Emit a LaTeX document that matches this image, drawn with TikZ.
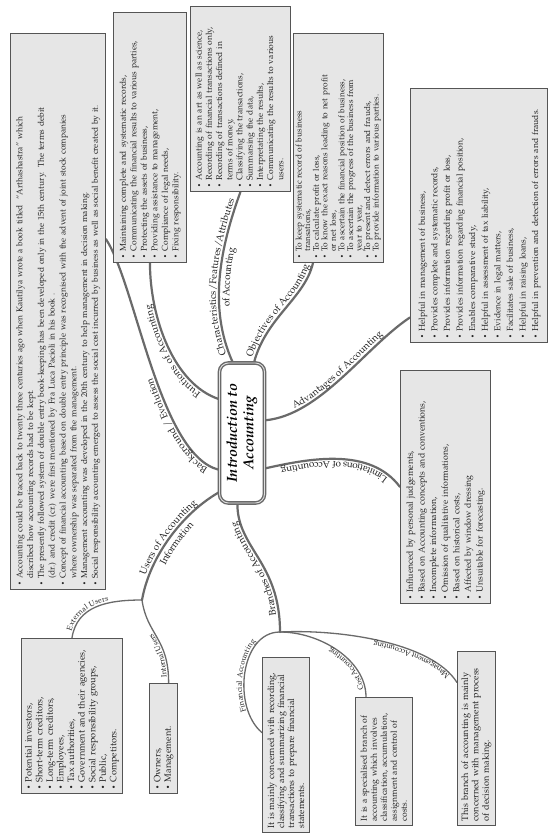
\documentclass[tikz,border=0pt]{standalone}
\usepackage[T1]{fontenc}
\usepackage{graphicx}
\usepackage{mathpazo}
\usetikzlibrary{calc,decorations.text,backgrounds}
\definecolor{linegray}{HTML}{6A6A6A}
\definecolor{boxfill}{HTML}{E6E6E6}
\definecolor{boxline}{HTML}{555555}
\definecolor{txt}{HTML}{262626}
\newcommand{\fs}[2]{\fontsize{#1}{#2}\selectfont}
\newcommand{\brfont}{\fontsize{9.8}{11}\selectfont}
\newcommand{\sbfont}{\fontsize{7.6}{9}\selectfont}
\newcommand{\bu}{\raisebox{0.1ex}{\scalebox{0.75}{\textbullet}}}
\tikzset{
 infobox/.style={draw=boxline, fill=boxfill, line width=0.9pt, rotate=90, anchor=north east, inner xsep=4pt, inner ysep=2pt, text=txt, align=left},
 boxdim/.style n args={3}{infobox, text width=#1-8pt, minimum height=#2, font=#3},
 hub/.style={rotate=90, draw=linegray, line width=1.4pt, double=gray!25, double distance=0.9pt, rounded corners=9pt, fill=white, minimum width=140pt, minimum height=45pt, inner sep=2pt, align=center, text=black, font=\fontsize{14.5}{16.5}\selectfont\bfseries\itshape},
 conn/.style={draw=linegray, line width=2.2pt, line cap=round},
 subconn/.style={draw=linegray, line width=1.3pt, line cap=round},
 lab/.style 2 args={postaction={decorate, decoration={text along path, text={|\brfont|#1}, text align=center, text color=txt, raise=#2}}},
 labl/.style n args={3}{postaction={decorate, decoration={text along path, text={|\brfont|#1}, text align={left, left indent=#3}, text color=txt, raise=#2}}},
 sublab/.style 2 args={postaction={decorate, decoration={text along path, text={|\sbfont|#1}, text align=center, text color=txt, raise=#2}}},
 sublabl/.style n args={3}{postaction={decorate, decoration={text along path, text={|\sbfont|#1}, text align={left, left indent=#3}, text color=txt, raise=#2}}},
}
\begin{document}
\begin{tikzpicture}[x=1pt,y=-1pt]
\useasboundingbox (0,0) rectangle (556,839);

\node[hub] (C) at (242,433) {Introduction to\\Accounting};

\node[boxdim={556pt}{95pt}{\fs{8.45}{10.8}}] (bg) at (10,33) {\begin{tabular}{@{}l@{\hspace{3pt}}l@{}}
\bu & Accounting could be traced back to twenty three centuries ago when Kautilya wrote a book titled \ ``Arthashastra'' which\\
 & discribed how accounting records had to be kept.\\
\bu & The presently followed system of double entry book-keeping has been developed only in the 15th century. The terms debit\\
 & (dr.) and credit (cr.) were first mentioned by Fra Luca Pacioli in his book .\\
\bu & Concept of financial accounting based on double entry principle was recognised with the advent of joint stock companies\\
 & where ownership was separated from the management.\\
\bu & Management accounting was developed in the 20th century to help management in decision making.\\
\bu & Social responsibility accounting emerged to assess the social cost incurred by business as well as social benefit created by it.
\end{tabular}};

\node[boxdim={250pt}{73pt}{\fs{8.5}{10.5}}] (fn) at (113,12) {\begin{tabular}{@{}l@{\hspace{3pt}}l@{}}
\bu & Maintaining complete and systematic records,\\
\bu & Communicating the financial results to various parties,\\
\bu & Protecting the assets of business,\\
\bu & Providing assistance to management,\\
\bu & Compliance of legal needs,\\
\bu & Fixing responsibility.
\end{tabular}};

\node[boxdim={185pt}{100pt}{\fs{8.5}{10.2}}] (ch) at (190,6) {\begin{tabular}{@{}l@{\hspace{3pt}}l@{}}
\bu & Accounting is an art as well as science,\\
\bu & Recording of financial transactions only,\\
\bu & Recording of transactions defined in\\
 & terms of money,\\
\bu & Classifying the transactions,\\
\bu & Summarsing the data,\\
\bu & Interpretating the results,\\
\bu & Communicating the results to various\\
 & users.
\end{tabular}};

\node[boxdim={229pt}{90pt}{\fs{8.3}{8.5}}] (ob) at (293,33) {\begin{tabular}{@{}l@{\hspace{3pt}}l@{}}
\bu & To keep systematic record of business\\
 & transations,\\
\bu & To calculate profit or loss,\\
\bu & To know the exact reasons leading to net profit\\
 & or net loss,\\
\bu & To ascertain the financial position of business,\\
\bu & To ascertain the progress of the business from\\
 & year to year,\\
\bu & To present and detect errors and frauds,\\
\bu & To provide information to various parties.
\end{tabular}};

\node[boxdim={254pt}{137pt}{\fs{8.6}{12.6}}] (ad) at (410,88) {\begin{tabular}{@{}l@{\hspace{3pt}}l@{}}
\bu & Helpful in management of business,\\
\bu & Provides complete and systematic records,\\
\bu & Provides information regarding profit or loss,\\
\bu & Provides information regarding financial position,\\
\bu & Enables comparative study,\\
\bu & Helpful in assessment of tax liability,\\
\bu & Evidence in legal matters,\\
\bu & Facilitates sale of business,\\
\bu & Helpful in raising loans,\\
\bu & Helpful in prevention and detection of errors and frauds.
\end{tabular}};

\node[boxdim={233pt}{90pt}{\fs{8.8}{11.6}}] (li) at (400,370) {\begin{tabular}{@{}l@{\hspace{3pt}}l@{}}
\bu & Influenced by personal judgements,\\
\bu & Based on Accounting concepts and conventions,\\
\bu & Incomplete information,\\
\bu & Omission of qualitative informations,\\
\bu & Based on historical costs,\\
\bu & Affected by window dressing\\
\bu & Unsuitable for forecasting.
\end{tabular}};

\node[boxdim={155pt}{101pt}{\fs{9.2}{10.6}}] (ex) at (21,638) {\begin{tabular}{@{}l@{\hspace{3pt}}l@{}}
\bu & Potential investors,\\
\bu & Short-term creditors,\\
\bu & Long-term creditors,\\
\bu & Employees,\\
\bu & Tax authorities,\\
\bu & Government and their agencies,\\
\bu & Social responsibility groups,\\
\bu & Public,\\
\bu & Competitors.
\end{tabular}};

\node[boxdim={110pt}{28pt}{\fs{9.2}{10.5}}] (inu) at (149,683) {\begin{tabular}{@{}l@{\hspace{3pt}}l@{}}
\bu & Owners,\\
\bu & Management.
\end{tabular}};

\node[boxdim={175pt}{47pt}{\fs{9}{10}}] (fi) at (262,657) {It is mainly concerned with recording,\\classifying and summarizing financial\\transactions to prepare financial\\statements.};

\node[boxdim={128pt}{57pt}{\fs{8.6}{10}}] (co) at (355,697) {It is a specialised branch of\\accounting which involves\\classification, accumulation,\\assignment and control of\\costs.};

\node[boxdim={174pt}{38pt}{\fs{9.2}{10.3}}] (mg) at (457,651) {This branch of accounting is mainly\\concerned with management process\\of decision making.};

\coordinate (Cf) at ($(C.north west)!0.74!(C.north east)$);
\coordinate (Cb) at ($(C.north west)!0.24!(C.north east)$);
\coordinate (Cu) at ($(C.north west)!0.08!(C.north east)$);
\coordinate (Cc) at ($(C.north east)!0.30!(C.south east)$);
\coordinate (Co) at ($(C.north east)!0.76!(C.south east)$);
\coordinate (Ca) at ($(C.south west)!0.59!(C.south east)$);
\coordinate (Cl) at ($(C.south west)!0.25!(C.south east)$);
\coordinate (Cr) at ($(C.north west)!0.40!(C.south west)$);

\coordinate (fnB) at (fn.west);
\coordinate (chB) at (ch.west);
\coordinate (obB) at ($(ob.north west)!0.22!(ob.south west)$);
\coordinate (bgR) at ($(bg.south west)!0.63!(bg.south east)$);
\coordinate (adL) at ($(ad.north west)!0.1!(ad.north east)$);
\coordinate (liL) at (li.north);
\coordinate (exT) at (ex.east);
\coordinate (inT) at ($(inu.north east)!0.68!(inu.south east)$);
\coordinate (fiL) at ($(fi.north west)!0.57!(fi.north east)$);
\coordinate (coT) at ($(co.north east)!0.19!(co.south east)$);
\coordinate (mgL) at ($(mg.north west)!0.82!(mg.north east)$);
\coordinate (uj) at (142,600);
\coordinate (bj) at (280,632);

\begin{scope}[on background layer]
\fill[white] (0,0) rectangle (556,839);
\path[conn, labl={Funtions of Accounting}{3pt}{18pt}] (Cf) .. controls +(-45,-15) and +(0,55) .. (fnB);
\path[conn, labl={Background / Evolution}{3pt}{10pt}] (Cb) .. controls +(-60,-15) and +(30,45) .. (bgR);
\path[conn, lab={Characteristics/Features/Attributes}{3pt}, lab={of Accounting}{-10.5pt}] (Cc) .. controls +(-25,-55) and +(-20,55) .. (chB);
\path[conn, lab={Objectives of Accounting}{3pt}] (Co) .. controls +(12,-45) and +(-8,35) .. (obB);
\path[conn, lab={Advantages of Accounting}{3pt}] (Ca) .. controls +(55,-5) and +(-45,30) .. (adL);
\path[conn, lab={Limitations of Accounting}{3pt}] (liL) .. controls +(-30,-40) and +(45,-10) .. (Cl);
\path[conn, lab={Users of Accounting}{3pt}, lab={Information}{-11pt}] (uj) .. controls +(8,-45) and +(-35,20) .. (Cu);
\path[subconn, sublabl={External Users}{2pt}{6pt}] (exT) .. controls +(5,-32) and +(-35,0) .. (uj);
\path[subconn, sublabl={Internal Users}{2pt}{6pt}] (inT) .. controls +(0,-45) and +(5,35) .. (uj);
\path[conn, lab={Branches of Accounting}{3pt}] (bj) .. controls +(0,-70) and +(0,45) .. (Cr);
\path[subconn, sublab={Financial Accounting}{2pt}] (fiL) .. controls +(-30,-25) and +(-40,0) .. (bj);
\path[subconn, sublabl={Cost Accounting}{2pt}{8pt}] (coT) .. controls +(0,-37) and +(40,0) .. (bj);
\path[subconn, sublabl={Management Accounting}{2pt}{10pt}] (mgL) .. controls +(-25,-40) and +(60,-3) .. (bj);
\end{scope}
\end{tikzpicture}
\end{document}
